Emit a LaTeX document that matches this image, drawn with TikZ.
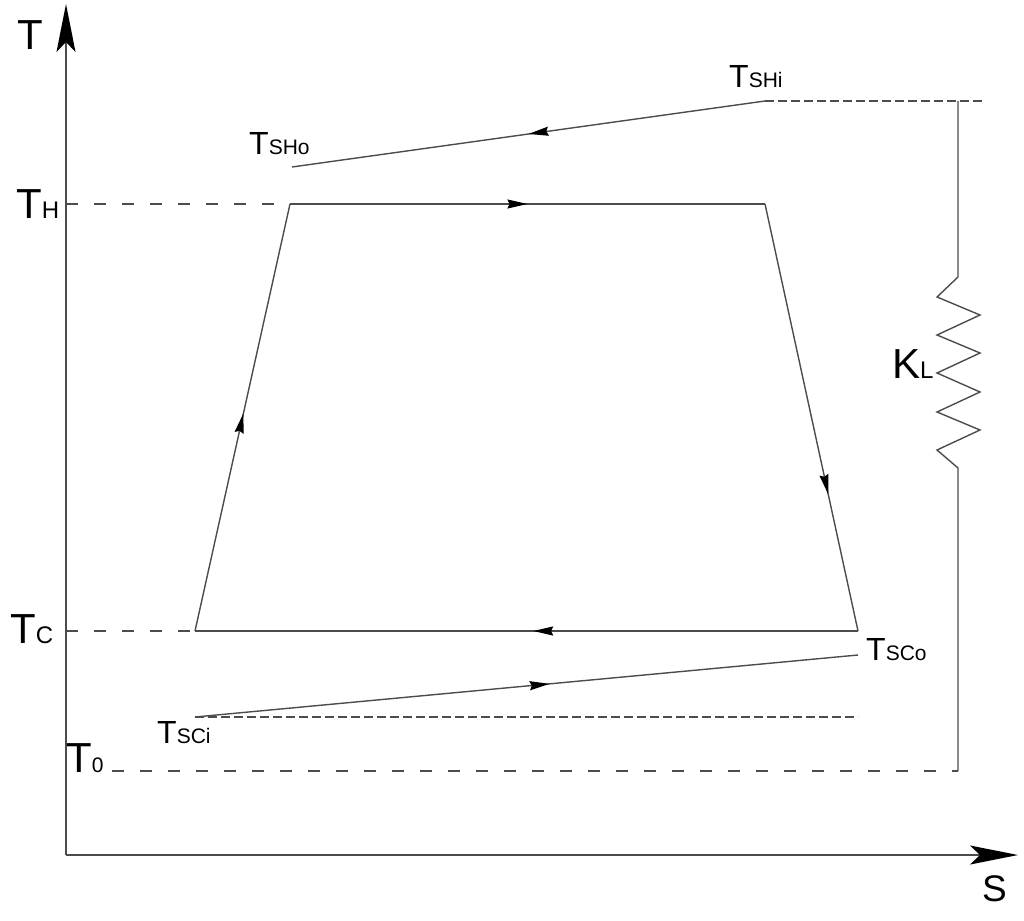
\documentclass[tikz,border=0pt]{standalone}
\usepackage{fontspec}
\setmainfont{Liberation Sans}
\usetikzlibrary{arrows.meta,decorations.markings}
\newcommand{\szA}{\fontsize{42}{42}\selectfont}
\newcommand{\szS}{\fontsize{37}{37}\selectfont}
\newcommand{\szB}{\fontsize{32}{32}\selectfont}
\newcommand{\szSa}{\fontsize{24}{24}\selectfont}
\newcommand{\szSb}{\fontsize{21}{21}\selectfont}
\tikzset{
  ln/.style={line width=1.4pt, draw=black!70},
  coarse/.style={ln, dash pattern=on 12pt off 16pt},
  fine/.style={ln, dash pattern=on 9pt off 4pt},
  axis/.style={ln, -{Stealth[length=48pt,width=19pt,inset=10pt,black]}},
  midarrow/.style={postaction={decorate}, decoration={markings,
      mark=at position #1 with {\arrow{Stealth[length=20pt,width=9pt,inset=2pt,black]}}}},
  lbl/.style={inner sep=0pt, anchor=base west, text=black},
}
\begin{document}
\begin{tikzpicture}[x=1pt,y=-1pt]
\useasboundingbox (0,0) rectangle (1024,920);
% axes
\coordinate (O) at (66,855);
\coordinate (Ytop) at (66,4);
\coordinate (Xend) at (1018,855);
\draw[axis] (O) -- (Ytop);
\draw[axis] (O) -- (Xend);
% cycle corners
\coordinate (A) at (195,631);
\coordinate (B) at (290,204);
\coordinate (C) at (765,204);
\coordinate (D) at (858,631);
\draw[ln, midarrow=0.51] (A) -- (B);
\draw[ln, midarrow=0.50] (B) -- (C);
\draw[ln, midarrow=0.68] (C) -- (D);
\draw[ln, midarrow=0.49] (D) -- (A);
% TH and TC dashed
\coordinate (thL) at (66,204);
\coordinate (tcL) at (66,631);
\draw[coarse] (thL) -- (B);
\draw[coarse] (tcL) -- (A);
% hot source
\coordinate (shi) at (765,101);
\coordinate (sho) at (292,167);
\coordinate (shR) at (985,101);
\draw[ln, midarrow=0.50] (shi) -- (sho);
\draw[fine] (shi) -- (shR);
% cold source
\coordinate (sci) at (195,717);
\coordinate (sco) at (858,655);
\coordinate (scR) at (858,717);
\draw[ln, midarrow=0.535] (sci) -- (sco);
\draw[fine] (sci) -- (scR);
% T0
\coordinate (t0L) at (112,771);
\coordinate (rBot) at (958,771);
\draw[coarse] (t0L) -- (rBot);
% resistor
\coordinate (rTop) at (958,101);
\draw[ln] (rTop) -- (958,277) -- (937,297) -- (980,315) -- (937,335) -- (980,353)
  -- (937,373) -- (980,392) -- (937,412) -- (980,430) -- (937,450) -- (958,468) -- (rBot);
% labels
\node[lbl] (lT) at (17,50) {\szA T};
\node[lbl] (lS) at (982,901) {\szS S};
\node[lbl] (lTH) at (16,218) {\szA T\szSa H};
\node[lbl] (lTC) at (10,643) {\szA T\szSa C};
\node[lbl] (lT0) at (66,772) {\szA T\szSb 0};
\node[lbl] (lKL) at (892,378) {\szA K\szSa L};
\node[lbl] (lSHi) at (729,88) {\szB T\szSb SHi};
\node[lbl] (lSHo) at (249,155) {\szB T\szSb SHo};
\node[lbl] (lSCi) at (157,743) {\szB T\szSb SCi};
\node[lbl] (lSCo) at (866,660) {\szB T\szSb SCo};
\end{tikzpicture}
\end{document}
